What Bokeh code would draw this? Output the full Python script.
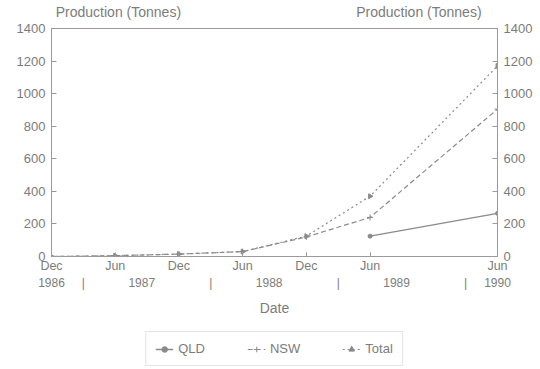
from bokeh.plotting import figure
from bokeh.models import (LinearAxis, FixedTicker, Range1d, Legend, LegendItem)
from bokeh.layouts import column
from bokeh.embed import file_html
from bokeh.resources import INLINE

# ---- data ----
dates = ["1986-12", "1987-06", "1987-12", "1988-06", "1988-12", "1989-06", "1990-06"]
nsw = [0, 5, 15, 30, 120, 240, 905]
total = [0, 5, 15, 30, 125, 370, 1170]
qld_dates = ["1989-06", "1990-06"]
qld = [125, 265]

tick_dates = ["1986-12", "1987-06", "1987-12", "1988-06", "1988-12", "1989-06", "1990-06"]
tick_labels = ["Dec", "Jun", "Dec", "Jun", "Dec", "Jun", "Jun"]
year_labels = ["1986", "1987", "1988", "1989", "1990"]
unit_label = "Production (Tonnes)"
series_names = ["QLD", "NSW", "Total"]

# layout positions (months after Dec 1986)
year_pos = [0, 8.5, 20.5, 32.5, 42]
sep_pos = [3, 15, 27, 39]
head_pos = [6.3, 34.6]


def m(d):
    y, mo = map(int, d.split("-"))
    return (y - 1986) * 12 + mo - 12


FONT = "Liberation Sans"
TXT = "#7c7c7c"
AX = "#9a9a9a"
LN = "#8a8a8a"

p = figure(frame_width=446, frame_height=228,
           output_backend="svg", toolbar_location=None,
           x_range=Range1d(0, 42), y_range=Range1d(0, 1400),
           min_border_left=51, min_border_right=43, min_border_top=0,
           min_border_bottom=0)
p.grid.visible = False
p.outline_line_color = AX
p.background_fill_color = "white"
p.border_fill_color = "white"

xa = p.below[0]
ya = p.left[0]


def style_y(a):
    a.axis_line_color = AX
    a.major_tick_line_color = AX
    a.major_tick_in = 5
    a.major_tick_out = 0
    a.minor_tick_line_color = None
    a.minor_tick_out = 0
    a.major_label_text_color = TXT
    a.major_label_text_font = FONT
    a.major_label_text_font_size = "13px"
    a.major_label_standoff = 6


ya.ticker = FixedTicker(ticks=list(range(0, 1401, 200)))
style_y(ya)
yr = LinearAxis(ticker=FixedTicker(ticks=list(range(0, 1401, 200))))
style_y(yr)
p.add_layout(yr, "right")

# month axis
xa.ticker = FixedTicker(ticks=[m(d) for d in tick_dates])
xa.major_label_overrides = {m(d): lab for d, lab in zip(tick_dates, tick_labels)}
xa.axis_line_color = AX
xa.major_tick_line_color = AX
xa.major_tick_in = 4
xa.major_tick_out = 0
xa.minor_tick_line_color = None
xa.minor_tick_out = 0
xa.major_label_text_color = TXT
xa.major_label_text_font = FONT
xa.major_label_text_font_size = "12.5px"
xa.major_label_standoff = 2

# header row: the two "Production (Tonnes)" captions
hd = LinearAxis(ticker=FixedTicker(ticks=head_pos),
                major_label_overrides={pos: unit_label for pos in head_pos})
hd.axis_line_color = None
hd.major_tick_line_color = None
hd.minor_tick_line_color = None
hd.major_tick_out = 0
hd.major_tick_in = 0
hd.minor_tick_out = 0
hd.major_label_text_color = TXT
hd.major_label_text_font = FONT
hd.major_label_text_font_size = "14px"
hd.major_label_standoff = 9
p.add_layout(hd, "above")

# year axis
ov = {pos: lab for pos, lab in zip(year_pos, year_labels)}
ov.update({s: "|" for s in sep_pos})
xb = LinearAxis(ticker=FixedTicker(ticks=year_pos + sep_pos), major_label_overrides=ov)
xb.axis_line_color = None
xb.major_tick_line_color = None
xb.minor_tick_line_color = None
xb.major_tick_out = 0
xb.major_tick_in = 0
xb.minor_tick_out = 0
xb.major_label_text_color = TXT
xb.major_label_text_font = FONT
xb.major_label_text_font_size = "12px"
xb.major_label_standoff = 0
xb.axis_label = "Date"
xb.axis_label_text_font = FONT
xb.axis_label_text_font_style = "normal"
xb.axis_label_text_font_size = "14px"
xb.axis_label_text_color = TXT
xb.axis_label_standoff = 7
p.add_layout(xb, "below")

# series
x_all = [m(d) for d in dates]
x_q = [m(d) for d in qld_dates]

STY = {
    "Total": dict(dash="2 3", marker="triangle", angle=-1.5708, size=5, width=1.2),
    "NSW": dict(dash="5 3", marker="cross", angle=0.0, size=6, width=1.2),
    "QLD": dict(dash="solid", marker="circle", angle=0.0, size=4, width=1.3),
}
series = {"QLD": (x_q, qld), "NSW": (x_all, nsw), "Total": (x_all, total)}

for name in ["Total", "NSW", "QLD"]:
    xs, ys = series[name]
    s = STY[name]
    p.line(xs, ys, line_color=LN, line_width=s["width"], line_dash=s["dash"])
    p.scatter(xs, ys, marker=s["marker"], angle=s["angle"], size=s["size"],
              fill_color=LN, line_color=LN)

# legend strip (a small companion figure under the chart)
p2 = figure(width=540, height=53, output_backend="svg", toolbar_location=None,
            x_range=Range1d(0, 1), y_range=Range1d(0, 1),
            x_axis_type=None, y_axis_type=None, min_border=0)
p2.outline_line_color = None
p2.background_fill_color = "white"
p2.border_fill_color = "white"

items = []
for name in series_names:
    s = STY[name]
    # off-range anchor point: only the legend glyph is shown
    rl = p2.line([-5, -4], [-5, -5], line_color=LN, line_width=s["width"],
                 line_dash=s["dash"])
    rm = p2.scatter([-5], [-5], marker=s["marker"], angle=s["angle"], size=s["size"],
                    fill_color=LN, line_color=LN)
    items.append(LegendItem(label=name, renderers=[rl, rm]))

legend = Legend(items=items, orientation="horizontal", location="top_center")
legend.label_text_font = FONT
legend.label_text_font_size = "13px"
legend.label_text_color = TXT
legend.border_line_color = "#c8c8c8"
legend.glyph_width = 18
legend.glyph_height = 14
legend.label_height = 14
legend.spacing = 42
legend.label_standoff = 5
legend.padding = 9
legend.margin = 13
legend.background_fill_alpha = 0
p2.add_layout(legend)

page = column(p, p2, spacing=0)

open("out.html", "w").write(file_html(page, INLINE))
